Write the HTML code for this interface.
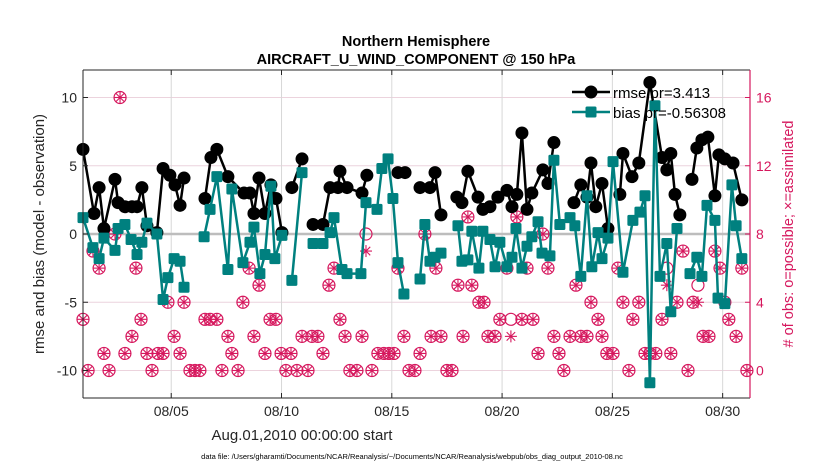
<!DOCTYPE html>
<html><head><meta charset="utf-8"><style>
body{margin:0;background:#fff;}
svg text{font-family:"Liberation Sans",sans-serif;}
</style></head><body>
<svg id="chart" width="830" height="470" xmlns="http://www.w3.org/2000/svg"></svg>
<script>
const rmseDays=[0,0.5,0.73,0.95,1.45,1.59,1.9,2.22,2.45,2.67,2.9,3.35,3.63,3.94,4.17,4.4,4.58,null,5.53,5.8,6.07,6.57,7.3,7.57,7.75,7.98,8.25,8.52,8.75,9.02,null,9.47,9.93,null,10.43,10.88,11.2,11.56,11.65,11.97,12.65,12.87,null,14.28,14.6,null,15.28,15.73,15.96,16.23,null,16.95,17.18,17.45,17.91,18.13,18.45,18.81,19.22,19.45,19.67,19.9,20.13,20.35,20.85,21.08,21.35,null,22.26,22.57,22.85,23.03,23.25,23.53,23.8,null,24.34,24.48,24.89,25.2,25.7,26.25,26.47,26.65,26.84,27.06,null,27.61,27.83,28.06,28.33,28.65,28.83,29.1,29.47,29.87];
const rmseVals=[6.2,1.5,3.4,0.4,4.0,2.3,2.0,2.0,2.0,3.4,0.6,0.1,4.8,4.3,3.6,2.1,4.1,null,2.6,5.6,6.2,4.2,3.0,3.0,1.5,4.1,1.5,3.6,2.6,0.1,null,3.4,5.5,null,0.7,0.7,3.4,3.4,4.6,3.4,3.0,4.3,null,4.5,4.5,null,3.4,3.4,4.5,1.4,null,2.7,2.3,4.6,2.7,1.8,2.0,2.7,3.2,2.0,2.9,7.4,1.8,3.0,4.7,3.7,6.7,null,2.3,3.6,2.7,5.2,2.0,3.7,0.4,null,2.9,5.9,4.2,5.2,11.1,5.6,4.7,5.9,2.9,1.4,null,4.0,6.3,6.9,7.1,2.8,5.8,5.5,5.2,2.5];
const biasDays=[0,0.45,0.73,0.95,1.45,1.59,1.9,2.18,2.45,2.67,2.9,3.35,3.63,3.85,4.13,4.4,4.58,null,5.49,5.76,6.07,6.57,6.75,7.25,7.57,7.75,8.02,8.25,8.52,8.7,9.02,null,9.47,9.93,null,10.43,10.88,11.2,11.38,11.74,11.97,12.6,12.83,13.33,13.55,13.83,14.05,14.28,14.55,null,15.28,15.5,15.73,15.96,16.23,null,17.0,17.18,17.45,17.63,17.95,18.13,18.45,18.68,18.9,19.22,19.45,19.63,19.9,20.13,20.35,20.63,20.81,21.17,21.35,21.62,22.08,22.3,22.57,22.85,23.07,23.35,23.53,23.8,24.03,24.48,24.93,25.25,25.48,25.7,25.93,26.16,26.47,26.65,26.93,null,27.52,27.83,28.06,28.29,28.65,28.79,29.1,29.42,29.61,29.87];
const biasVals=[1.2,-1.0,-1.8,-0.3,-1.2,0.4,0.7,-0.4,-1.5,-0.6,0.8,0.0,-4.8,-3.2,-1.8,-2.0,-3.9,null,-0.2,1.8,4.2,-2.6,3.3,-2.1,-0.6,0.5,-2.9,-1.5,3.5,-1.8,-0.1,null,-3.4,4.5,null,-0.7,-0.7,0.1,1.2,-2.6,-2.9,-2.9,2.3,1.8,4.8,5.5,2.6,-2.1,-4.4,null,-3.3,0.7,-2.0,-1.7,-1.4,null,0.6,-2.0,-1.9,0.2,-2.5,0.2,-0.4,-2.4,-0.6,-2.4,-1.7,0.4,-2.5,-0.9,-0.2,0.9,-1.4,-1.6,5.4,0.7,1.2,0.6,-3.1,2.8,-2.4,0.1,-1.8,-0.3,5.3,-2.8,1.0,1.6,2.8,-10.9,9.4,-3.1,-0.7,-5.7,0.4,null,-2.9,-1.7,-3.1,2.1,1.0,-4.7,-5.1,3.6,0.6,-1.8];
const obsDays=[1.68,0,0.23,0.45,0.73,0.95,1.18,1.45,1.9,2.22,2.4,2.63,2.9,3.13,3.4,3.63,3.85,4.13,4.4,4.58,4.85,5.08,5.3,5.53,5.76,6.07,6.3,6.57,6.75,7.03,7.25,7.53,7.75,7.98,8.25,8.48,8.75,8.98,9.2,9.43,9.7,9.93,10.2,10.38,10.65,10.88,11.15,11.38,11.65,11.88,12.1,12.42,12.65,12.83,13.1,13.37,13.64,13.87,14.1,14.28,14.55,14.78,15.05,15.28,15.5,15.78,16.0,16.23,16.5,16.73,17.0,17.23,17.45,17.63,17.95,18.18,18.36,18.68,18.9,19.22,19.4,19.67,19.9,20.13,20.4,20.63,20.85,21.08,21.35,21.58,21.8,22.08,22.35,22.57,22.85,23.03,23.35,23.53,23.75,24.03,24.25,24.48,24.75,24.93,25.2,25.48,25.7,25.97,26.25,26.47,26.65,26.93,27.2,27.43,27.66,27.88,28.11,28.38,28.65,28.88,29.1,29.28,29.61,29.87,30.1];
const obsPossible=[16,3,0,7,6,1,0,8,1,2,6,3,1,0,1,1,4,2,1,4,0,0,0,3,3,3,0,2,1,0,4,6,2,5,1,3,3,1,0,1,0,2,0,2,2,1,5,6,3,2,0,0,2,8,0,1,1,1,1,6,2,0,0,1,8,2,6,2,0,0,5,2,9,5,4,4,2,2,3,6,3,9,3,6,3,1,8,6,2,1,0,2,5,2,2,4,3,2,1,1,6,4,0,3,4,1,1,1,3,6,1,4,7,0,4,5,2,2,7,6,4,3,2,6,0];
const obsAssim=[16,3,0,7,6,1,0,8,1,2,6,3,1,0,1,1,4,2,1,4,0,0,0,3,3,3,0,2,1,0,4,6,2,5,1,3,3,1,0,1,0,2,0,2,2,1,5,6,3,2,0,0,2,7,0,1,1,1,1,6,2,0,0,1,8,2,6,2,0,0,5,2,9,5,4,4,2,2,3,6,2,9,3,6,3,1,8,6,2,1,0,2,5,2,2,4,3,2,1,1,6,4,0,3,4,1,1,1,3,5,1,4,7,0,4,4,2,2,7,6,4,3,2,6,0];
const xTickDays=[4,9,14,19,24,29];
const xTickLabels=["08/05","08/10","08/15","08/20","08/25","08/30"];
const yTicks=[10,5,0,-5,-10];
const y2Ticks=[16,12,8,4,0];

const NS="http://www.w3.org/2000/svg";
const svg=document.getElementById('chart');
const L=83,R=750,T=70,B=398;
const X=d=>L+d*(R-L)/30.24;
const Y=v=>234-v*13.65;
const Y2=c=>Y((c-8)*1.25);
const PINK="#d6185e",TEAL="#00807f";
function mk(tag,attrs,parent){const e=document.createElementNS(NS,tag);for(const k in attrs)e.setAttribute(k,attrs[k]);(parent||svg).appendChild(e);return e;}
function txt(s,attrs){const e=mk('text',attrs);e.textContent=s;return e;}

// grid
yTicks.forEach(v=>{const g=mk('line',{x1:L,x2:R,y1:Y(v),y2:Y(v),stroke:'#ecd3dd','stroke-width':1});

});
xTickDays.forEach(d=>{const g=mk('line',{x1:X(d),x2:X(d),y1:T,y2:B,stroke:'#d8d8d8','stroke-width':1});

});
const zl=mk('line',{x1:L,x2:R,y1:Y(0),y2:Y(0),stroke:'#bdbdbd','stroke-width':2.5});



// obs markers
obsDays.forEach((d,i)=>{
  const cx=X(d),cy=Y2(obsPossible[i]);
  const c=mk('circle',{cx:cx,cy:cy,r:6,fill:'none',stroke:PINK,'stroke-width':1.2});
  
  
  const ay=Y2(obsAssim[i]);
  const g=mk('g',{stroke:PINK,'stroke-width':1.1});
  
  
  for(let k=0;k<4;k++){const a=k*Math.PI/4;mk('line',{x1:cx-6*Math.cos(a),y1:ay-6*Math.sin(a),x2:cx+6*Math.cos(a),y2:ay+6*Math.sin(a)},g);}
});

function series(days,vals,color,shape,name){
  let d='',pen=false;
  days.forEach((t,i)=>{if(t===null||vals[i]===null){pen=false;return;}d+=(pen?'L':'M')+X(t).toFixed(1)+','+Y(vals[i]).toFixed(1);pen=true;});
  const p=mk('path',{d:d,fill:'none',stroke:color,'stroke-width':2.5,'stroke-linejoin':'round'});
  
  
  days.forEach((t,i)=>{if(t===null||vals[i]===null)return;
    let m;
    if(shape==='c')m=mk('circle',{cx:X(t),cy:Y(vals[i]),r:6.5,fill:color});
    else m=mk('rect',{x:X(t)-5.5,y:Y(vals[i])-5.5,width:11,height:11,rx:1.5,fill:color});
    
    
  });
}
series(rmseDays,rmseVals,'#000','c','rmse');
series(biasDays,biasVals,TEAL,'s','bias');

// axes box
const lax=mk('line',{x1:L,x2:L,y1:T,y2:B,stroke:'#262626','stroke-width':1});


const tax=mk('line',{x1:L,x2:R,y1:T,y2:T,stroke:'#262626','stroke-width':1});


const bax=mk('line',{x1:L,x2:R,y1:B,y2:B,stroke:'#262626','stroke-width':1});


const rax=mk('line',{x1:R,x2:R,y1:T,y2:B,stroke:PINK,'stroke-width':1.2});



yTicks.forEach(v=>{
  mk('line',{x1:L,x2:L+5,y1:Y(v),y2:Y(v),stroke:'#262626'});
  const t=txt(v,{x:L-6,y:Y(v)+5,'text-anchor':'end','font-size':14,fill:'#262626'});
  
  
});
y2Ticks.forEach(c=>{
  mk('line',{x1:R-5,x2:R,y1:Y2(c),y2:Y2(c),stroke:PINK});
  const t=txt(c,{x:R+6,y:Y2(c)+5,'font-size':14,fill:PINK});
  
  
});
xTickDays.forEach((d,i)=>{
  mk('line',{x1:X(d),x2:X(d),y1:B-5,y2:B,stroke:'#262626'});
  mk('line',{x1:X(d),x2:X(d),y1:T,y2:T+5,stroke:'#262626'});
  const t=txt(xTickLabels[i],{x:X(d),y:B+18,'text-anchor':'middle','font-size':14,fill:'#262626'});
  
  
});
</script>
<svg style="position:absolute;left:0;top:0" width="830" height="470" xmlns="http://www.w3.org/2000/svg">
<text x="416" y="46" text-anchor="middle" font-size="14.5" font-weight="bold" fill="#000">Northern Hemisphere</text>
<text x="416" y="64" text-anchor="middle" font-size="14.5" font-weight="bold" fill="#000">AIRCRAFT_U_WIND_COMPONENT @ 150 hPa</text>
<text transform="translate(44,234) rotate(-90)" text-anchor="middle" font-size="15" fill="#262626">rmse and bias (model - observation)</text>
<text transform="translate(793,234) rotate(-90)" text-anchor="middle" font-size="14.5" fill="#d6185e"># of obs: o=possible; ×=assimilated</text>
<text x="302" y="440" text-anchor="middle" font-size="15" fill="#262626">Aug.01,2010 00:00:00 start</text>
<text x="412" y="459" text-anchor="middle" font-size="7.5" fill="#000">data file: /Users/gharamti/Documents/NCAR/Reanalysis/~/Documents/NCAR/Reanalysis/webpub/obs_diag_output_2010-08.nc</text>
<g>
<g>
<line x1="572" x2="610" y1="92" y2="92" stroke="#000" stroke-width="2.5"/>
<circle cx="591" cy="92" r="6.5" fill="#000"/>
<text x="613" y="98" font-size="15" fill="#000">rmse pr=3.413</text>
</g>
<g>
<line x1="572" x2="610" y1="112" y2="112" stroke="#00807f" stroke-width="2.5"/>
<rect x="585.5" y="106.5" width="11" height="11" rx="1.5" fill="#00807f"/>
<text x="613" y="118" font-size="15" fill="#000">bias pr=-0.56308</text>
</g>
</g>
</svg>
</body></html>
